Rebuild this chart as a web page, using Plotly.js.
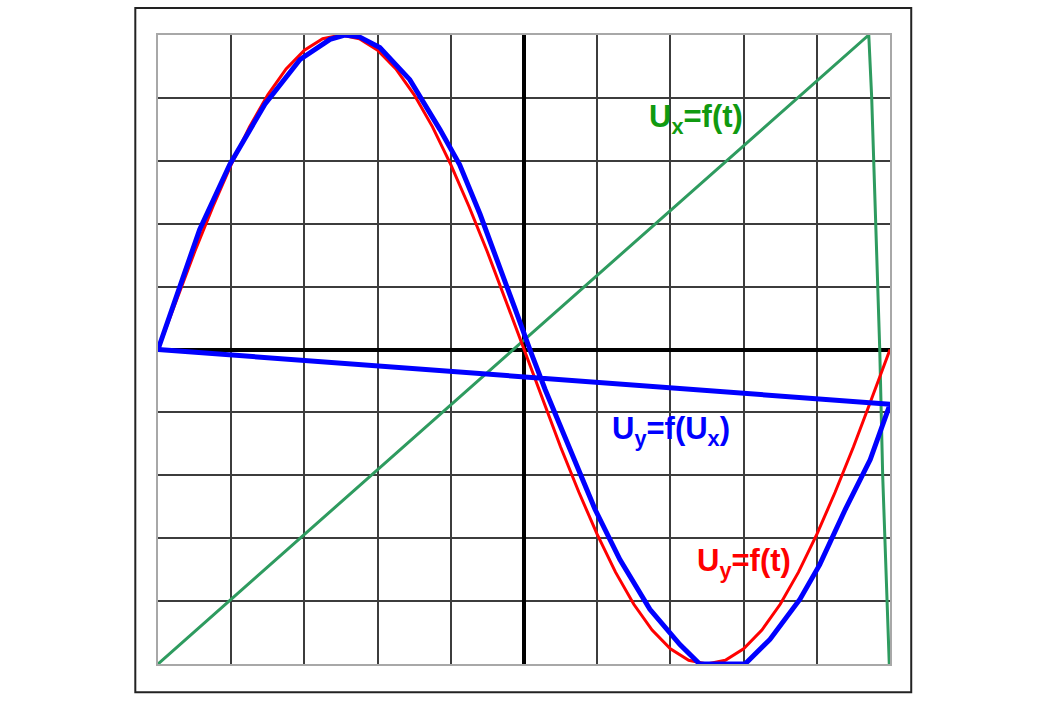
<!DOCTYPE html>
<html>
<head>
<meta charset="utf-8">
<script src="https://cdn.plot.ly/plotly-3.0.1.min.js"></script>
<style>html,body{margin:0;padding:0;background:#fff;}</style>
</head>
<body>
<div id="chart" style="width:1040px;height:720px;"></div>
<script>
// Uy = f(t) (red)
var redX = [-5,-4.75,-4.5,-4.25,-4,-3.75,-3.5,-3.25,-3,-2.75,-2.5,-2.25,-2,-1.75,-1.5,-1.25,-1,-0.75,-0.5,-0.25,0,
            0.25,0.5,0.75,1,1.25,1.5,1.75,2,2.25,2.5,2.75,3,3.25,3.5,3.75,4,4.25,4.5,4.75,5];
var redY = [0,0.78,1.55,2.27,2.94,3.54,4.05,4.46,4.76,4.94,5,4.94,4.76,4.46,4.05,3.54,2.94,2.27,1.55,0.78,0,
            -0.78,-1.55,-2.27,-2.94,-3.54,-4.05,-4.46,-4.76,-4.94,-5,-4.94,-4.76,-4.46,-4.05,-3.54,-2.94,-2.27,-1.55,-0.78,0];
// Ux = f(t) (green sawtooth)
var greenX = [-5,4.71,4.75,4.78,4.86,4.9,4.99];
var greenY = [-5,5,4,3,0,-2,-5];
// Uy = f(Ux) (blue)
var blueX = [-5,-4.77,-4.43,-4.02,-3.54,-3.06,-2.65,-2.45,-2.25,-1.97,-1.56,-1.15,-0.88,-0.60,-0.33,-0.12,0.08,0.29,0.63,0.97,1.31,1.72,2.13,2.40,3.02,3.36,3.77,4.04,4.39,4.73,5,-5];
var blueY = [0,0.79,1.91,2.94,3.90,4.61,4.93,5,4.97,4.80,4.29,3.50,2.94,2.15,1.27,0.64,0,-0.64,-1.59,-2.54,-3.34,-4.13,-4.69,-5,-5,-4.61,-3.97,-3.42,-2.54,-1.75,-0.87,0];

var traces = [
  {x: greenX, y: greenY, mode: 'lines', line: {color: '#2e9b5f', width: 3}, hoverinfo: 'skip'},
  {x: redX, y: redY, mode: 'lines', line: {color: '#ff0000', width: 3}, hoverinfo: 'skip'},
  {x: blueX, y: blueY, mode: 'lines', line: {color: '#0000ff', width: 5}, hoverinfo: 'skip'}
];

var axisCommon = {
  range: [-5, 5], dtick: 1, tick0: 0, showticklabels: false, ticks: '',
  showgrid: true, gridcolor: '#3c3c3c', gridwidth: 2,
  zeroline: true, zerolinecolor: '#000000', zerolinewidth: 4,
  showline: true, mirror: true, linecolor: '#a8a8a8', linewidth: 2,
  fixedrange: true
};

var layout = {
  width: 1040, height: 720,
  margin: {l: 158, r: 150, t: 35, b: 56},
  paper_bgcolor: '#ffffff', plot_bgcolor: '#ffffff',
  showlegend: false,
  font: {family: 'Liberation Sans, Arial, sans-serif'},
  xaxis: Object.assign({}, axisCommon),
  yaxis: Object.assign({}, axisCommon),
  shapes: [
    {type: 'rect', xref: 'paper', yref: 'paper', x0: -0.031, x1: 1.029, y0: -0.045, y1: 1.043,
     line: {color: '#222222', width: 2}, fillcolor: 'rgba(0,0,0,0)'}
  ],
  annotations: [
    {x: 1.68, y: 3.66, xref: 'x', yref: 'y', xanchor: 'left', yanchor: 'middle', showarrow: false,
     text: 'U<sub>x</sub>=f(t)', font: {size: 31, color: '#109a10', weight: 'bold'}},
    {x: 1.17, y: -1.3, xref: 'x', yref: 'y', xanchor: 'left', yanchor: 'middle', showarrow: false,
     text: 'U<sub>y</sub>=f(U<sub>x</sub>)', font: {size: 31, color: '#0000ff', weight: 'bold'}},
    {x: 2.33, y: -3.4, xref: 'x', yref: 'y', xanchor: 'left', yanchor: 'middle', showarrow: false,
     text: 'U<sub>y</sub>=f(t)', font: {size: 31, color: '#ff0000', weight: 'bold'}}
  ]
};

Plotly.newPlot('chart', traces, layout, {displayModeBar: false, staticPlot: true});
</script>
</body>
</html>
